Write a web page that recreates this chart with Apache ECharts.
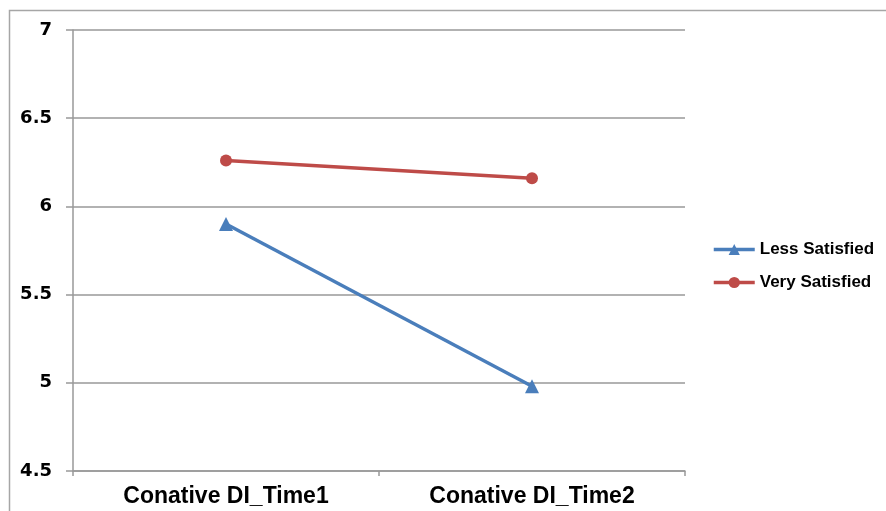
<!DOCTYPE html>
<html>
<head>
<meta charset="utf-8">
<script src="https://cdn.jsdelivr.net/npm/echarts@6/dist/echarts.min.js"></script>
<style>
html,body{margin:0;padding:0;background:#fff;}
#chart{width:886px;height:511px;}
</style>
</head>
<body>
<div id="chart"></div>
<script>
var categories = ['Conative DI_Time1', 'Conative DI_Time2'];
var lessSatisfied = [5.90, 4.98];
var verySatisfied = [6.26, 6.16];
var seriesNames = ['Less Satisfied', 'Very Satisfied'];

var chart = echarts.init(document.getElementById('chart'));
chart.setOption({
  backgroundColor: '#fff',
  animation: false,
  graphic: [{
    type: 'rect',
    shape: {x: 9.5, y: 10.5, width: 1000, height: 1000},
    style: {fill: 'none', stroke: '#a6a6a6', lineWidth: 1.5},
    silent: true
  }],
  grid: {left: 73, right: 201, top: 30, bottom: 40, containLabel: false},
  legend: {
    orient: 'vertical',
    left: 712,
    top: 241,
    padding: 0,
    itemWidth: 41,
    itemHeight: 14,
    itemGap: 16,
    lineStyle: {width: 3.5},
    textStyle: {fontFamily: 'Liberation Sans', fontWeight: 'bold', fontSize: 17, color: '#000'},
    data: seriesNames
  },
  xAxis: {
    type: 'category',
    data: categories,
    boundaryGap: true,
    axisLine: {lineStyle: {color: '#999', width: 1.5}},
    axisTick: {show: true, length: 5, lineStyle: {color: '#999', width: 1.5}},
    axisLabel: {fontFamily: 'Liberation Sans', fontWeight: 'bold', fontSize: 23, color: '#000', margin: 14}
  },
  yAxis: {
    type: 'value',
    min: 4.5,
    max: 7,
    interval: 0.5,
    axisLine: {show: true, lineStyle: {color: '#999', width: 1.5}},
    axisTick: {show: true, length: 7, lineStyle: {color: '#999', width: 1.5}},
    splitLine: {lineStyle: {color: '#999', width: 1.5}},
    axisLabel: {fontFamily: 'DejaVu Sans', fontWeight: 'bold', fontSize: 18, color: '#000', margin: 21}
  },
  series: [{
    name: seriesNames[0],
    type: 'line',
    data: lessSatisfied,
    symbol: 'triangle',
    symbolSize: 14,
    lineStyle: {color: '#4a7ebb', width: 3.5},
    itemStyle: {color: '#4a7ebb'}
  }, {
    name: seriesNames[1],
    type: 'line',
    data: verySatisfied,
    symbol: 'circle',
    symbolSize: 12,
    lineStyle: {color: '#be4b48', width: 3.5},
    itemStyle: {color: '#be4b48'}
  }]
});
</script>
</body>
</html>
